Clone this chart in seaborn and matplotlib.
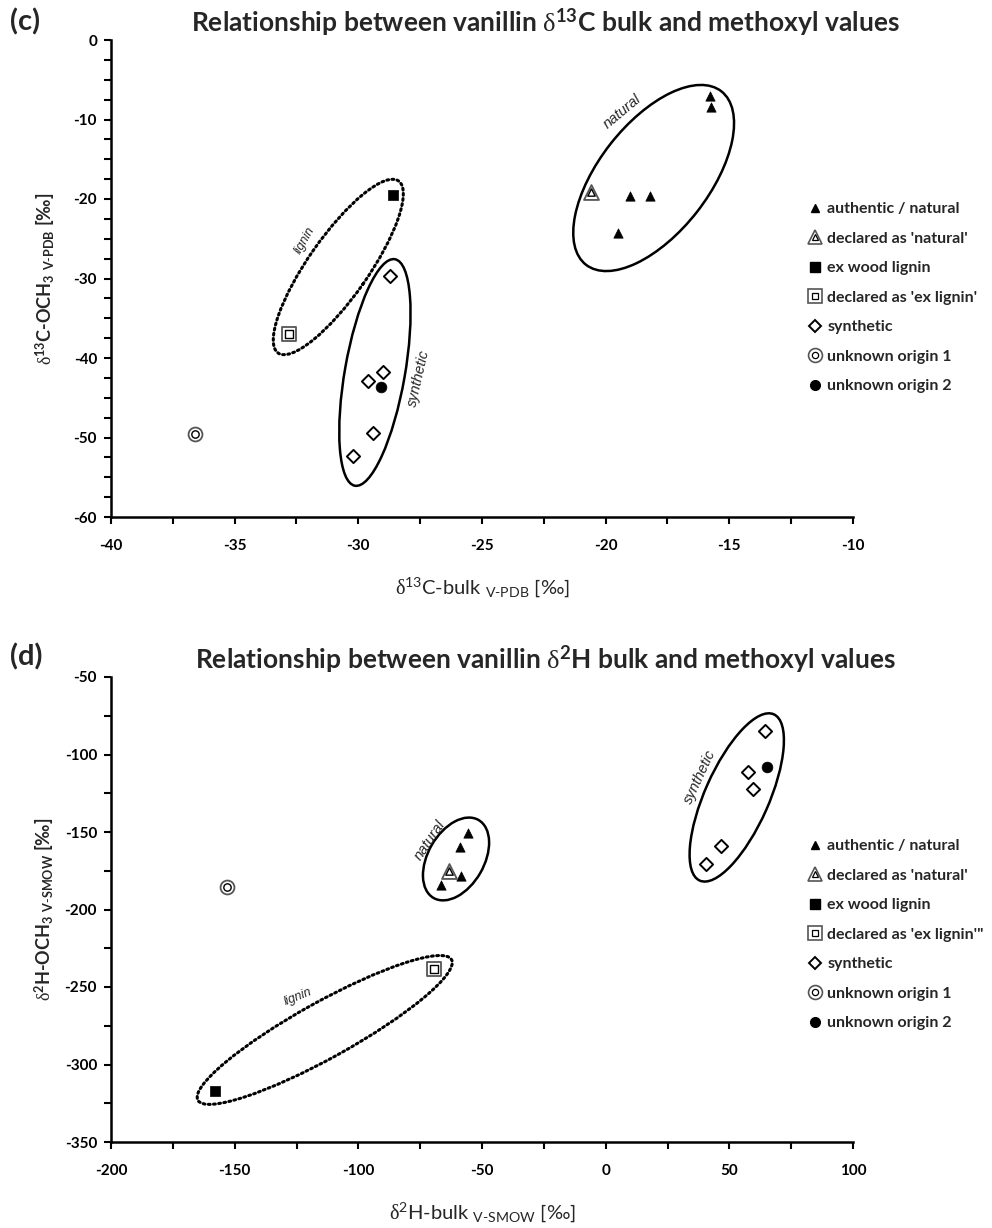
import numpy as np
import pandas as pd
import matplotlib
matplotlib.use('Agg')
import matplotlib.pyplot as plt
import matplotlib.transforms as mtransforms
from matplotlib.patches import Ellipse
from matplotlib.lines import Line2D
from matplotlib.legend_handler import HandlerTuple
from matplotlib.ticker import MultipleLocator
import seaborn as sns

# ---- panel (c): d13C bulk vs methoxyl ----
c_natural_x = [-15.8, -15.75, -19.0, -18.2, -19.5]
c_natural_y = [-7.0, -8.4, -19.6, -19.6, -24.3]
c_decl_natural_x = [-20.6]
c_decl_natural_y = [-19.1]
c_wood_x = [-28.6]
c_wood_y = [-19.5]
c_decl_lignin_x = [-32.8]
c_decl_lignin_y = [-37.0]
c_synthetic_x = [-28.7, -29.0, -29.6, -29.4, -30.2]
c_synthetic_y = [-29.7, -41.7, -42.9, -49.4, -52.3]
c_unknown1_x = [-36.6]
c_unknown1_y = [-49.5]
c_unknown2_x = [-29.1]
c_unknown2_y = [-43.6]

# ---- panel (d): d2H bulk vs methoxyl ----
d_natural_x = [-55.6, -58.7, -58.4, -66.4]
d_natural_y = [-150.5, -159.5, -178.2, -184.2]
d_decl_natural_x = [-63.4]
d_decl_natural_y = [-175.0]
d_wood_x = [-158.0]
d_wood_y = [-317.0]
d_decl_lignin_x = [-69.4]
d_decl_lignin_y = [-238.4]
d_synthetic_x = [64.5, 57.7, 59.7, 46.5, 40.5]
d_synthetic_y = [-84.6, -111.5, -122.3, -159.0, -170.8]
d_unknown1_x = [-153.2]
d_unknown1_y = [-185.7]
d_unknown2_x = [65.1]
d_unknown2_y = [-108.3]

legend_c = ['authentic / natural', "declared as 'natural'", 'ex wood lignin',
            "declared as 'ex lignin'", 'synthetic', 'unknown origin 1', 'unknown origin 2']
legend_d = ['authentic / natural', "declared as 'natural'", 'ex wood lignin',
            "declared as 'ex lignin'\"", 'synthetic', 'unknown origin 1', 'unknown origin 2']

sns.set_theme(style='ticks')
plt.rcParams['font.family'] = ['Lato', 'DejaVu Sans']
plt.rcParams['font.weight'] = 'bold'
plt.rcParams['axes.unicode_minus'] = False
plt.rcParams['mathtext.fontset'] = 'custom'
plt.rcParams['mathtext.rm'] = 'Lato:weight=normal'
plt.rcParams['mathtext.bf'] = 'Lato:weight=bold'
plt.rcParams['mathtext.it'] = 'Lato:style=italic:weight=normal'
plt.rcParams['mathtext.sf'] = 'Liberation Serif:weight=normal'

fig = plt.figure(figsize=(9.92, 12.28), dpi=100)
ax_c = fig.add_axes([111 / 992, 1 - 517 / 1228, 742 / 992, 477 / 1228])
ax_d = fig.add_axes([111 / 992, 1 - 1142 / 1228, 742 / 992, 465 / 1228])


def frame(g):
    return pd.DataFrame({'x': g[0], 'y': g[1]})


def draw_points(ax, groups):
    nat, dnat, wood, dlig, syn, unk1, unk2 = [frame(g) for g in groups]
    sns.scatterplot(data=nat, x='x', y='y', ax=ax, marker='^', s=45, color='black',
                    edgecolor='black', linewidth=0.5, zorder=5)
    sns.scatterplot(data=dnat, x='x', y='y', ax=ax, marker='^', s=115, color='white',
                    edgecolor='#555555', linewidth=1.3, zorder=5)
    sns.scatterplot(data=dnat, x='x', y='y', ax=ax, marker='^', s=28, color='white',
                    edgecolor='black', linewidth=1.0, zorder=6)
    sns.scatterplot(data=wood, x='x', y='y', ax=ax, marker='s', s=50, color='black',
                    edgecolor='black', linewidth=0.5, zorder=5)
    sns.scatterplot(data=dlig, x='x', y='y', ax=ax, marker='s', s=95, color='white',
                    edgecolor='#555555', linewidth=1.3, zorder=5)
    sns.scatterplot(data=dlig, x='x', y='y', ax=ax, marker='s', s=28, color='white',
                    edgecolor='black', linewidth=1.0, zorder=6)
    sns.scatterplot(data=syn, x='x', y='y', ax=ax, marker='D', s=45, color='white',
                    edgecolor='black', linewidth=1.4, zorder=5)
    sns.scatterplot(data=unk1, x='x', y='y', ax=ax, marker='o', s=100, color='white',
                    edgecolor='#555555', linewidth=1.3, zorder=5)
    sns.scatterplot(data=unk1, x='x', y='y', ax=ax, marker='o', s=28, color='white',
                    edgecolor='black', linewidth=1.0, zorder=6)
    sns.scatterplot(data=unk2, x='x', y='y', ax=ax, marker='o', s=60, color='black',
                    edgecolor='black', linewidth=0.5, zorder=5)


def add_ellipse(ax, cx, cy, w_px, h_px, angle, ls):
    tr = fig.dpi_scale_trans + mtransforms.ScaledTranslation(cx, cy, ax.transData)
    if ls == ':':
        e = Ellipse((0, 0), w_px / 100, h_px / 100, angle=angle, transform=tr,
                    fill=False, edgecolor='black', lw=2.2, linestyle=(0, (0.6, 1.1)),
                    capstyle='round', zorder=3)
    else:
        e = Ellipse((0, 0), w_px / 100, h_px / 100, angle=angle, transform=tr,
                    fill=False, edgecolor='black', lw=1.8, zorder=3)
    ax.add_artist(e)


def style_axes(ax, xlim, ylim, xmaj, ymaj, ymin):
    ax.set_xlim(*xlim)
    ax.set_ylim(*ylim)
    ax.xaxis.set_major_locator(MultipleLocator(xmaj))
    ax.xaxis.set_minor_locator(MultipleLocator(xmaj / 2))
    ax.yaxis.set_major_locator(MultipleLocator(ymaj))
    ax.yaxis.set_minor_locator(MultipleLocator(ymin))
    sns.despine(ax=ax)
    for sp in ['left', 'bottom']:
        ax.spines[sp].set_linewidth(1.8)
        ax.spines[sp].set_color('black')
    ax.tick_params(which='major', direction='out', length=5, width=1.5, color='black',
                   labelsize=11, labelcolor='black')
    ax.tick_params(axis='x', which='major', pad=11)
    ax.tick_params(axis='y', which='major', pad=5)
    ax.tick_params(which='minor', direction='out', length=5, width=1.5, color='black')
    ax.set_facecolor('white')


def legend_handles():
    h_nat = Line2D([], [], ls='none', marker='^', ms=5.5, mfc='black', mec='black')
    h_dnat = (Line2D([], [], ls='none', marker='^', ms=10.5, mfc='white', mec='#555555', mew=1.2),
              Line2D([], [], ls='none', marker='^', ms=4.5, mfc='white', mec='black', mew=0.9))
    h_wood = Line2D([], [], ls='none', marker='s', ms=7, mfc='black', mec='black')
    h_dlig = (Line2D([], [], ls='none', marker='s', ms=9.5, mfc='white', mec='#555555', mew=1.2),
              Line2D([], [], ls='none', marker='s', ms=4.5, mfc='white', mec='black', mew=0.9))
    h_syn = Line2D([], [], ls='none', marker='D', ms=6.5, mfc='white', mec='black', mew=1.4)
    h_unk1 = (Line2D([], [], ls='none', marker='o', ms=10, mfc='white', mec='#555555', mew=1.2),
              Line2D([], [], ls='none', marker='o', ms=4.5, mfc='white', mec='black', mew=0.9))
    h_unk2 = Line2D([], [], ls='none', marker='o', ms=7, mfc='black', mec='black')
    return [h_nat, h_dnat, h_wood, h_dlig, h_syn, h_unk1, h_unk2]


def add_legend(ax, labels, top_px):
    ax.legend(legend_handles(), labels, loc='upper left', frameon=False,
              bbox_to_anchor=(808 / 992, 1 - top_px / 1228), bbox_transform=fig.transFigure,
              prop={'weight': 'bold', 'size': 11.5}, handlelength=0.9, handletextpad=0.3,
              labelspacing=0.96, borderpad=0, borderaxespad=0,
              handler_map={tuple: HandlerTuple(ndivide=1)})


# ---- panel (c) ----
draw_points(ax_c, [(c_natural_x, c_natural_y), (c_decl_natural_x, c_decl_natural_y),
                   (c_wood_x, c_wood_y), (c_decl_lignin_x, c_decl_lignin_y),
                   (c_synthetic_x, c_synthetic_y), (c_unknown1_x, c_unknown1_y),
                   (c_unknown2_x, c_unknown2_y)])
style_axes(ax_c, (-40, -10), (-60, 0), 5, 10, 2.5)
add_ellipse(ax_c, -18.06, -17.36, 220, 110, 52, '-')
add_ellipse(ax_c, -30.81, -28.55, 210, 60, 55, ':')
add_ellipse(ax_c, -29.33, -41.82, 230, 60, 80, '-')
ax_c.text(-19.33, -9.0, 'natural', style='italic', fontweight='normal', fontsize=10.5,
          rotation=40, ha='center', va='center', family='Liberation Sans')
ax_c.text(-32.15, -25.2, 'lignin', style='italic', fontweight='normal', fontsize=9,
          rotation=60, ha='center', va='center', family='Liberation Sans')
ax_c.text(-27.57, -42.5, 'synthetic', style='italic', fontweight='normal', fontsize=10.5,
          rotation=77, ha='center', va='center', family='Liberation Sans')
ax_c.set_xlabel(r'$\mathsf{\delta}^{13}$C-bulk $_{\text{V-PDB}}$ [‰]', fontsize=14.5,
                fontweight='normal', labelpad=16)
ax_c.set_ylabel(r'$\mathsf{\delta}^{\mathbf{13}}$C-OCH$_{\mathbf{3}}$ $_{\mathbf{V}\text{-}\mathbf{PDB}}$ [‰]',
                fontsize=13, fontweight='bold', labelpad=12)
add_legend(ax_c, legend_c, 202)

# ---- panel (d) ----
draw_points(ax_d, [(d_natural_x, d_natural_y), (d_decl_natural_x, d_decl_natural_y),
                   (d_wood_x, d_wood_y), (d_decl_lignin_x, d_decl_lignin_y),
                   (d_synthetic_x, d_synthetic_y), (d_unknown1_x, d_unknown1_y),
                   (d_unknown2_x, d_unknown2_y)])
style_axes(ax_d, (-200, 100), (-350, -50), 50, 50, 25)
add_ellipse(ax_d, -60.5, -167.4, 90, 56, 60, '-')
add_ellipse(ax_d, 53.0, -127.7, 182, 64, 66, '-')
add_ellipse(ax_d, -113.6, -277.7, 290, 56, 29, ':')
ax_d.text(-71.0, -155.2, 'natural', style='italic', fontweight='normal', fontsize=10.5,
          rotation=56, ha='center', va='center', family='Liberation Sans')
ax_d.text(38.2, -114.3, 'synthetic', style='italic', fontweight='normal', fontsize=10.5,
          rotation=65, ha='center', va='center', family='Liberation Sans')
ax_d.text(-124.3, -256.3, 'lignin', style='italic', fontweight='normal', fontsize=9,
          rotation=22, ha='center', va='center', family='Liberation Sans')
ax_d.set_xlabel(r'$\mathsf{\delta}^{2}$H-bulk $_{\text{V-SMOW}}$ [‰]', fontsize=14.5,
                fontweight='normal', labelpad=16)
ax_d.set_ylabel(r'$\mathsf{\delta}^{\mathbf{2}}$H-OCH$_{\mathbf{3}}$ $_{\mathbf{V}\text{-}\mathbf{SMOW}}$ [‰]',
                fontsize=13, fontweight='bold', labelpad=6)
add_legend(ax_d, legend_d, 839)

# titles and panel letters
fig.text(545 / 992, 1 - 22 / 1228,
         r'Relationship between vanillin $\mathsf{\delta}^{\mathbf{13}}$C bulk and methoxyl values',
         ha='center', va='center', fontsize=19, fontweight='bold')
fig.text(545 / 992, 1 - 659 / 1228,
         r'Relationship between vanillin $\mathsf{\delta}^{\mathbf{2}}$H bulk and methoxyl values',
         ha='center', va='center', fontsize=19, fontweight='bold')
fig.text(10 / 992, 1 - 22 / 1228, '(c)', ha='left', va='center', fontsize=21, fontweight='bold')
fig.text(10 / 992, 1 - 657 / 1228, '(d)', ha='left', va='center', fontsize=21, fontweight='bold')

fig.savefig('out.png', dpi=100, facecolor='white')
